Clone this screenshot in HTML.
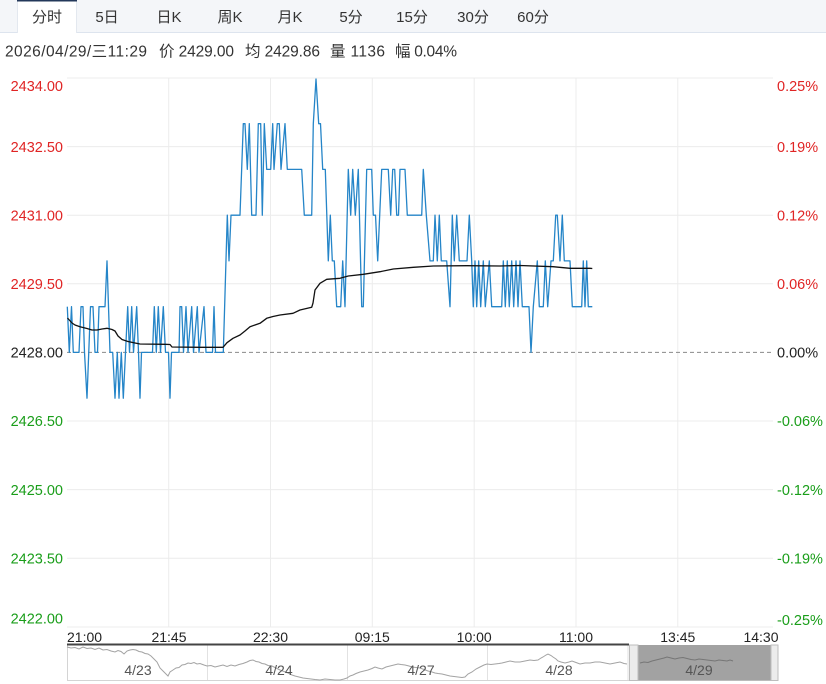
<!DOCTYPE html>
<html>
<head>
<meta charset="utf-8">
<style>
html,body{margin:0;padding:0;background:#fff;}
body{width:826px;height:684px;overflow:hidden;font-family:"Liberation Sans","Noto Sans CJK SC",sans-serif;}
svg{display:block;}
</style>
</head>
<body>
<svg width="826" height="684" viewBox="0 0 826 684" xmlns="http://www.w3.org/2000/svg" font-family="Liberation Sans, Noto Sans CJK SC, sans-serif">
  <!-- tab bar -->
  <rect x="0" y="0" width="826" height="33" fill="#f4f6f9"/>
  <line x1="0" y1="32.5" x2="826" y2="32.5" stroke="#dde4ee" stroke-width="1"/>
  <rect x="17" y="0" width="60" height="33" fill="#ffffff"/>
  <line x1="17.5" y1="0" x2="17.5" y2="33" stroke="#e3e8ef"/>
  <line x1="76.5" y1="0" x2="76.5" y2="33" stroke="#e3e8ef"/>
  <rect x="17" y="0" width="60" height="1.5" fill="#23385a"/>
  <g font-size="15" fill="#333" text-anchor="middle">
    <text x="47" y="22">分时</text>
    <text x="107" y="22">5日</text>
    <text x="169" y="22">日K</text>
    <text x="230" y="22">周K</text>
    <text x="290" y="22">月K</text>
    <text x="351" y="22">5分</text>
    <text x="412" y="22">15分</text>
    <text x="473" y="22">30分</text>
    <text x="533" y="22">60分</text>
  </g>

  <!-- info line -->
  <g font-size="15.5" fill="#333">
    <text x="5" y="56.5" textLength="142" lengthAdjust="spacing">2026/04/29/三11:29</text>
    <text x="159" y="56.5" textLength="75" lengthAdjust="spacing">价 2429.00</text>
    <text x="245" y="56.5" textLength="75" lengthAdjust="spacing">均 2429.86</text>
    <text x="330" y="56.5" textLength="55" lengthAdjust="spacing">量 1136</text>
    <text x="395" y="56.5" textLength="62" lengthAdjust="spacing">幅 0.04%</text>
  </g>

  <!-- grid -->
  <g stroke="#ececec" stroke-width="1">
    <line x1="67" y1="78" x2="773" y2="78"/>
    <line x1="67" y1="146.6" x2="773" y2="146.6"/>
    <line x1="67" y1="215.2" x2="773" y2="215.2"/>
    <line x1="67" y1="283.8" x2="773" y2="283.8"/>
    <line x1="67" y1="421" x2="773" y2="421"/>
    <line x1="67" y1="489.6" x2="773" y2="489.6"/>
    <line x1="67" y1="558.2" x2="773" y2="558.2"/>
    <line x1="67" y1="627" x2="773" y2="627"/>
    <line x1="168.7" y1="78" x2="168.7" y2="627"/>
    <line x1="270.5" y1="78" x2="270.5" y2="627"/>
    <line x1="372.3" y1="78" x2="372.3" y2="627"/>
    <line x1="474.2" y1="78" x2="474.2" y2="627"/>
    <line x1="576" y1="78" x2="576" y2="627"/>
    <line x1="677.8" y1="78" x2="677.8" y2="627"/>
  </g>
  <line x1="67" y1="352.4" x2="773" y2="352.4" stroke="#8a8a8a" stroke-width="1" stroke-dasharray="4,3"/>

  <!-- left axis labels -->
  <g font-size="14.5" text-anchor="end">
    <text x="63" y="91.2" fill="#e02424">2434.00</text>
    <text x="63" y="151.8" fill="#e02424">2432.50</text>
    <text x="63" y="220.4" fill="#e02424">2431.00</text>
    <text x="63" y="289" fill="#e02424">2429.50</text>
    <text x="63" y="357.6" fill="#222">2428.00</text>
    <text x="63" y="426.2" fill="#1a9e1a">2426.50</text>
    <text x="63" y="494.8" fill="#1a9e1a">2425.00</text>
    <text x="63" y="563.4" fill="#1a9e1a">2423.50</text>
    <text x="63" y="623.4" fill="#1a9e1a">2422.00</text>
  </g>
  <!-- right axis labels -->
  <g font-size="14.5" text-anchor="start">
    <text x="777" y="91.2" fill="#e02424">0.25%</text>
    <text x="777" y="151.8" fill="#e02424">0.19%</text>
    <text x="777" y="220.4" fill="#e02424">0.12%</text>
    <text x="777" y="289" fill="#e02424">0.06%</text>
    <text x="777" y="357.6" fill="#222">0.00%</text>
    <text x="777" y="426.2" fill="#1a9e1a">-0.06%</text>
    <text x="777" y="494.8" fill="#1a9e1a">-0.12%</text>
    <text x="777" y="563.4" fill="#1a9e1a">-0.19%</text>
    <text x="777" y="625" fill="#1a9e1a">-0.25%</text>
  </g>

  <!-- price line -->
  <polyline fill="none" stroke="#2585c8" stroke-width="1.3" stroke-linejoin="round" points="
67.3,306.7 69.3,352.4 71.5,306.7 73.3,352.4 79,352.4 81,306.7 83,306.7 84.5,352.4 87,398.2 90.5,306.7 93,306.7 95,352.4 97.5,352.4 99,306.7 105,306.7 107,260.9 110,352.4 112.7,352.4 115,398.2 117.3,352.4 119,398.2 121.3,352.4 123.3,398.2 125.5,352.4 127.7,306.7 129.5,352.4 131.7,306.7 133.5,352.4 136.7,306.7 138.5,352.4 140,398.2 141.5,352.4 152.5,352.4 154.3,306.7 156.3,352.4 158.3,306.7 160.5,352.4 163.3,306.7 165.5,352.4 168.5,352.4 170,398.2 171.5,352.4 179,352.4 180,306.7 181.7,306.7 183.5,352.4 186,306.7 188,352.4 191.7,306.7 193.5,352.4 197.3,306.7 199,352.4 204,306.7 206,352.4 212.5,352.4 214,306.7 215.5,352.4 223.3,352.4 227.3,215.2 229,260.9 231,215.2 240,215.2 243.3,123.7 245,123.7 247.3,169.4 249.3,123.7 251.7,215.2 256,215.2 258.3,123.7 260.7,123.7 262.3,215.2 264.3,123.7 266.7,169.4 270.7,169.4 272.7,123.7 274,169.4 277.3,123.7 279.3,123.7 281,169.4 285,123.7 287.3,169.4 301.7,169.4 304.3,215.2 311.7,215.2 313.3,123.7 316,79 318.7,123.7 320.5,123.7 322.7,169.4 325.3,169.4 328.3,260.9 330.3,215.2 332.3,260.9 334.3,260.9 336.7,306.7 340.7,306.7 342.7,260.9 345,306.7 348.3,169.4 350.7,215.2 352.7,169.4 355.3,215.2 358.3,169.4 361.7,306.7 363.3,306.7 366.7,169.4 371.7,169.4 373.3,215.2 375.5,215.2 377.7,260.9 381.7,169.4 388.3,169.4 390.7,215.2 392.7,169.4 394.7,169.4 396.7,215.2 398.5,215.2 400,169.4 405,169.4 407.3,215.2 421.7,215.2 423.3,169.4 426.3,215.2 430,260.9 433.3,260.9 435,215.2 437.3,260.9 439.3,215.2 441.3,260.9 446.7,260.9 450,306.7 452.3,215.2 454.3,260.9 456.7,215.2 459.3,260.9 467,260.9 469.3,215.2 471.7,260.9 473.3,306.7 475,260.9 476.7,306.7 478.7,260.9 480.7,306.7 483.3,260.9 485.3,306.7 489.3,260.9 491.7,306.7 501.7,306.7 503.3,260.9 505.3,306.7 507.3,260.9 509.3,306.7 511.7,260.9 513.7,306.7 516,260.9 518,306.7 520,260.9 522.3,306.7 529,306.7 531,352.4 533.3,306.7 537.3,260.9 539.3,306.7 543.3,306.7 545.3,260.9 547.7,306.7 551,260.9 553.3,260.9 555.7,215.2 557.3,215.2 560,260.9 562.3,215.2 564.3,260.9 570,260.9 572.3,306.7 581.7,306.7 583.3,260.9 585,306.7 586.7,260.9 588.3,306.7 592.3,306.7"/>

  <!-- average line -->
  <polyline fill="none" stroke="#111" stroke-width="1.3" stroke-linejoin="round" points="
67.5,318 69.3,320 72,323 75,325 80,326.7 87,328.5 92,330 97,330 102,329 107,328.3 112,329.5 115,331 118,336 122,339.5 128,341.5 135,343 140,344 165,344.3 170,344.5 172,347 200,347.3 223,347.3 227,342.7 233,338.3 240,335 245,331 250,326.7 255,325 260,323.3 266.7,318.3 273,316.5 280,315 293,313.3 300,310 311.7,307.3 313,303 315,290 320,283.3 326.7,279.3 340,278.3 348.3,276 363.3,274.3 380,271.7 393.3,269 413.3,267.3 433.3,266 466.7,265.7 500,266 520,265.5 553,266.7 570,268.3 590,268.3 592.3,268.5"/>

  <!-- time axis labels -->
  <g font-size="14" fill="#222">
    <text x="67" y="642">21:00</text>
    <text x="169" y="642" text-anchor="middle">21:45</text>
    <text x="270.5" y="642" text-anchor="middle">22:30</text>
    <text x="372.3" y="642" text-anchor="middle">09:15</text>
    <text x="474.2" y="642" text-anchor="middle">10:00</text>
    <text x="576" y="642" text-anchor="middle">11:00</text>
    <text x="677.8" y="642" text-anchor="middle">13:45</text>
    <text x="778.5" y="642" text-anchor="end">14:30</text>
  </g>

  <!-- navigator -->
  <line x1="67.5" y1="645" x2="67.5" y2="681" stroke="#d4d4d4"/>
  <line x1="67" y1="680.5" x2="778" y2="680.5" stroke="#d4d4d4"/>
  <g stroke="#e2e2e2">
    <line x1="207.5" y1="645" x2="207.5" y2="680"/>
    <line x1="347.5" y1="645" x2="347.5" y2="680"/>
    <line x1="487.5" y1="645" x2="487.5" y2="680"/>
    <line x1="628" y1="645" x2="628" y2="680"/>
  </g>
  <polyline fill="none" stroke="#a3a3a3" stroke-width="1" points="
67,647 71,648 75,647.5 79,649 83,647 87,648.5 91,648 95,649.5 99,648 103,650 107,649.5 111,651 115,652 118,650.5 121,651.5 124,654 127,651 130,650 133,649.5 136,650 139,651.5 142,652 145,653.5 148,654 151,656 154,659 157,662 160,668 163,671 166,674 168,676 170,672 173,670 176,668 179,667.5 182,665 185,664.5 188,663 191,663.5 194,662.5 197,664 200,663.5 204,665 207,666 211,665.5 215,667 219,666 223,665 227,666.5 231,665 235,666 239,664.5 243,663.5 247,662 250,660.5 253,660 256,661.5 259,662 262,663.5 265,664 268,665.5 272,666 276,668 280,670 284,671.5 288,673 292,675 295,676 299,677 303,678 307,678.5 311,679 315,679.5 320,680 325,679 330,679.5 335,680 340,680 344,679 347,678 350,676 353,675 356,673.5 360,672 364,671 368,670 372,668.5 375,667 378,668 382,669 386,667 390,666 394,665 398,664 401,664.5 405,665 409,666 412,667 416,667.5 420,668 424,669.5 428,671 432,672 435,673 438,673.5 442,674 446,675 450,676 454,676.5 458,677 462,677.5 465,677 468,674 472,672 476,669 480,667 484,665 487,664 491,664.5 495,664 499,663.5 502,663 506,662 510,661 515,662 520,662 525,661 530,660 534,660.5 538,660 541,658 543,657 546,655 548,654 551,655.5 553,657 556,659 558,661 561,662 565,663 569,662 572,661 576,662.5 580,664 585,663 590,663 595,662 600,662 605,663 610,664 615,663 620,662 624,663.5 627,664"/>
  <!-- selection -->
  <rect x="638" y="645" width="133" height="35.5" fill="#a2a2a2"/>
  <rect x="629.5" y="645" width="8.5" height="35.5" fill="#ececec" stroke="#bdbdbd" stroke-width="1"/>
  <rect x="771" y="645" width="7" height="35.5" fill="#ececec" stroke="#bdbdbd" stroke-width="1"/>
  <polyline fill="none" stroke="#767676" stroke-width="1" points="
640,663 644,662 648,662.5 652,661 656,660 660,659 664,658 667,657 671,658 675,659 679,658 683,657.5 687,658.5 691,659.5 695,660 699,659 703,659.5 707,660 711,660.5 715,661 719,660 723,660.5 727,661 730,660 733,661"/>
  <line x1="67" y1="644.5" x2="629" y2="644.5" stroke="#444" stroke-width="2"/>
  <g font-size="14" fill="#555" text-anchor="middle">
    <text x="138" y="675">4/23</text>
    <text x="279" y="675">4/24</text>
    <text x="421" y="675">4/27</text>
    <text x="559" y="675">4/28</text>
    <text x="699" y="675">4/29</text>
  </g>
</svg>
</body>
</html>
